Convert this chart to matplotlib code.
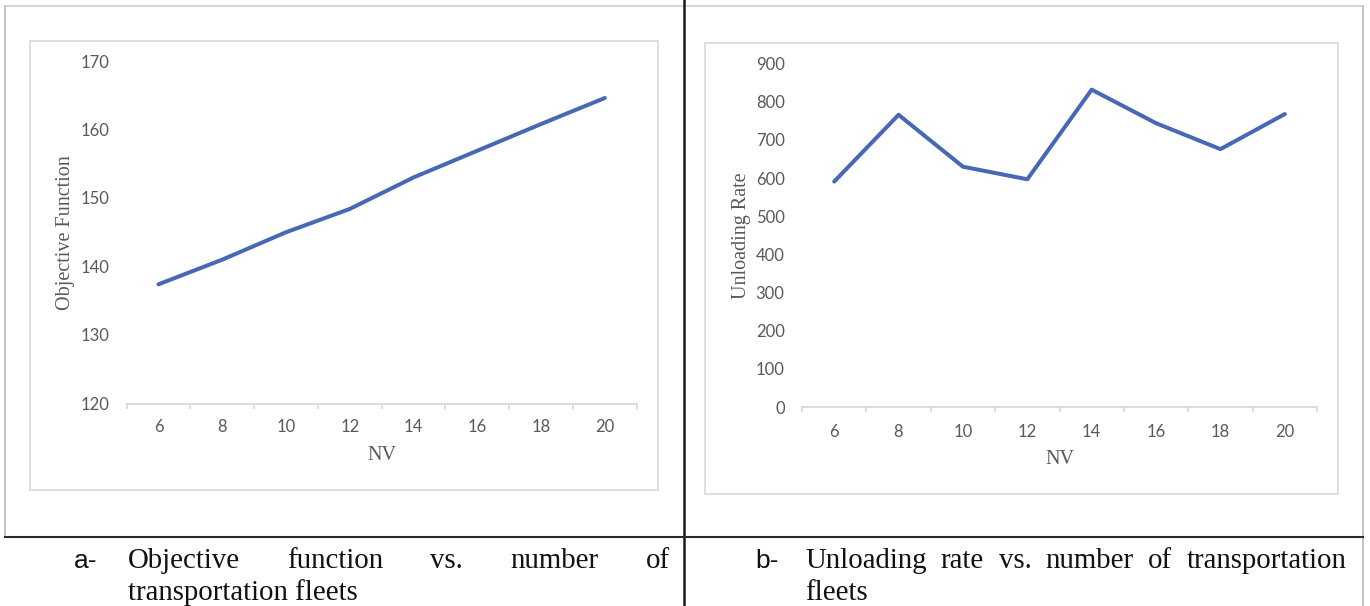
import matplotlib
matplotlib.use("Agg")
import matplotlib.pyplot as plt
from matplotlib.lines import Line2D
from matplotlib.patches import Rectangle

# data
nv = [6, 8, 10, 12, 14, 16, 18, 20]
objective = [137.4, 141.0, 145.0, 148.4, 153.0, 156.9, 160.8, 164.6]
unloading = [591, 766, 630, 597, 832, 744, 676, 768]

caption_a = ["Objective", "function", "vs.", "number", "of"]
caption_a2 = "transportation fleets"
caption_b = ["Unloading", "rate", "vs.", "number", "of", "transportation"]
caption_b2 = "fleets"

W, H = 1370, 606
fig = plt.figure(figsize=(W / 100, H / 100), dpi=100)
fig.patch.set_facecolor("white")

line_col = "#4769b5"
txt_col = "#595959"
axis_col = "#d9d9d9"


def fx(x):
    return x / W


def fy(y):
    return 1 - y / H


def px_axes(x0, y0, x1, y1):
    # pixel box (top-left origin) -> figure axes
    return fig.add_axes([fx(x0), fy(y1), (x1 - x0) / W, (y1 - y0) / H])


def hline(x0, x1, y, **kw):
    fig.add_artist(Line2D([fx(x0), fx(x1)], [fy(y), fy(y)], transform=fig.transFigure, **kw))


def vline(x, y0, y1, **kw):
    fig.add_artist(Line2D([fx(x), fx(x)], [fy(y0), fy(y1)], transform=fig.transFigure, **kw))


# table lines
hline(4.5, 1362.5, 5.7, color="#d0d0d0", lw=1.2)
vline(4.5, 5.7, 536.5, color="#b8b8b8", lw=1.2)
vline(1362.5, 5.7, 606, color="#b8b8b8", lw=1.2)
vline(683.5, 0, 606, color="#1a1a1a", lw=1.8)
hline(4.5, 1362.5, 536.5, color="#2b2b2b", lw=1.5)

# chart boxes
for (x0, y0, x1, y1) in [(30, 40.7, 658.3, 489.8), (705, 42.7, 1338, 493.5)]:
    fig.add_artist(Rectangle((fx(x0), fy(y1)), (x1 - x0) / W, (y1 - y0) / H,
                             transform=fig.transFigure, fill=False,
                             edgecolor=axis_col, lw=1.2))


def style_axes(ax, values, ylim, yticks, ylabel, ylab_xy, xlab_y, xpad):
    idx = list(range(len(nv)))
    ax.plot(idx, values, color=line_col, lw=2.9, solid_capstyle="round",
            solid_joinstyle="round")
    ax.set_xlim(-0.5, len(nv) - 0.5)
    ax.set_ylim(*ylim)
    ax.set_yticks(yticks)
    ax.set_xticks(idx)
    ax.set_xticklabels([str(v) for v in nv])
    ax.set_xticks([i - 0.5 for i in range(len(nv) + 1)], minor=True)
    for s in ["top", "right", "left"]:
        ax.spines[s].set_visible(False)
    ax.spines["bottom"].set_color(axis_col)
    ax.spines["bottom"].set_linewidth(1.3)
    ax.tick_params(axis="x", which="major", length=0, pad=xpad,
                   labelsize=12, labelcolor=txt_col)
    ax.tick_params(axis="x", which="minor", length=3.5, width=1.3, color=axis_col)
    ax.tick_params(axis="y", length=0, pad=12.5, labelsize=12, labelcolor=txt_col)
    for lab in ax.get_xticklabels() + ax.get_yticklabels():
        lab.set_fontfamily("Lato")
    ax.set_facecolor("none")
    ax.set_xlabel("NV", fontfamily="Liberation Serif", fontsize=14.5, color=txt_col)
    ax.xaxis.set_label_coords(0.5, xlab_y)
    ax.xaxis.label.set_va("center")
    ax.set_ylabel(ylabel, fontfamily="Liberation Serif", fontsize=14.5, color=txt_col)
    ax.yaxis.set_label_coords(*ylab_xy)
    ax.yaxis.label.set_va("center")


ax1 = px_axes(126.6, 61, 636.7, 403.5)
style_axes(ax1, objective, (120, 170), range(120, 171, 10), "Objective Function",
           (-0.12, 0.5), -0.152, 11.5)

ax2 = px_axes(802, 63.7, 1317, 407)
style_axes(ax2, unloading, (0, 900), range(0, 901, 100), "Unloading Rate",
           (-0.118, 0.5), -0.152, 12.5)

# captions
serif = dict(fontfamily="Liberation Serif", fontsize=20.8, color="#111111", va="baseline")
sans = dict(fontfamily="Liberation Sans", fontsize=19, color="#111111", va="baseline")

fig.text(fx(74), fy(567.5), "a-", **sans)
fig.text(fx(755), fy(567.5), "b-", **sans)
fig.text(fx(128), fy(600.5), caption_a2, **serif)
fig.text(fx(805), fy(600.5), caption_b2, **serif)


def justify(words, x0, x1, y):
    texts = [fig.text(fx(x0), fy(y), w, **serif) for w in words]
    fig.canvas.draw()
    r = fig.canvas.get_renderer()
    widths = [t.get_window_extent(r).width for t in texts]
    gap = (x1 - x0 - sum(widths)) / (len(words) - 1)
    x = x0
    for t, w in zip(texts, widths):
        t.set_x(fx(x))
        x += w + gap


justify(caption_a, 128, 669.6, 567.5)
justify(caption_b, 805, 1346.6, 567.5)

fig.savefig("out.png", dpi=100)
